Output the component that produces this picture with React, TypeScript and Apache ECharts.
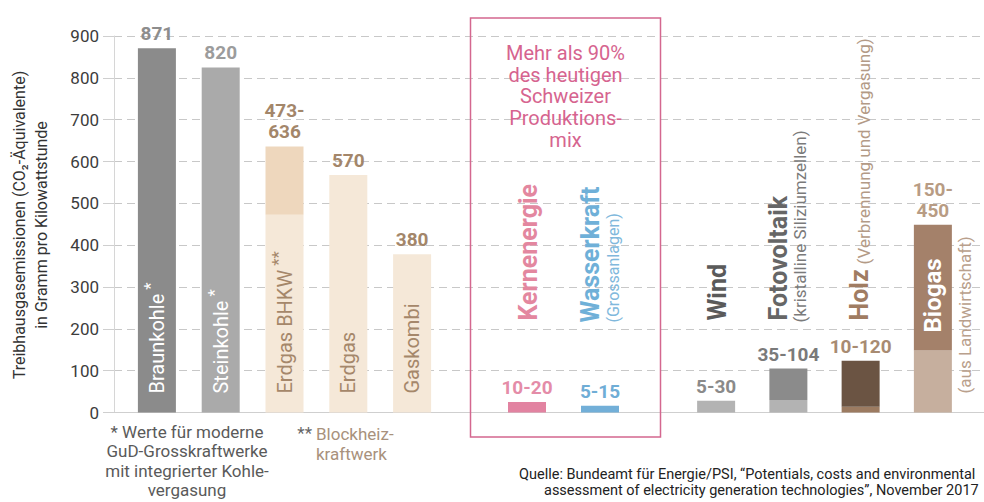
import React, { useEffect, useRef } from "react";
import * as echarts from "echarts";

const FONT = "Roboto, 'Noto Sans', sans-serif";

// Y axis scale
const yMin = 0;
const yMax = 900;
const yStep = 100;

// Fossil group
const fossilCategories = ["Braunkohle", "Steinkohle", "Erdgas BHKW", "Erdgas", "Gaskombi"];
const fossilLow = [871, 825, 473, 568, 378];
const fossilHigh = [871, 825, 636, 568, 378];
const fossilLabels = ["871", "820", "473-\n636", "570", "380"];
const fossilMarks = ["*", "*", "**", "", ""];

// Swiss production mix group
const swissCategories = ["Kernenergie", "Wasserkraft"];
const swissLow = [25, 16];
const swissHigh = [25, 16];
const swissLabels = ["10-20", "5-15"];
const swissNotes = ["", "(Grossanlagen)"];

// Renewables group
const renewCategories = ["Wind", "Fotovoltaik", "Holz", "Biogas"];
const renewLow = [28, 30, 14, 148];
const renewHigh = [28, 105, 124, 449];
const renewLabels = ["5-30", "35-104", "10-120", "150-\n450"];
const renewNotes = ["", "(kristalline Siliziumzellen)", "(Verbrennung und Vergasung)", "(aus Landwirtschaft)"];

// Styles (kept apart from the data)
const fossilLowColors = ["#8b8b8b", "#aaaaaa", "#f5e8d8", "#f5e8d8", "#f5e8d8"];
const fossilHighColors = ["#8b8b8b", "#aaaaaa", "#eed7bd", "#f5e8d8", "#f5e8d8"];
const fossilLabelColors = ["#8d8d8d", "#9c9c9c", "#a3866a", "#a3866a", "#a3866a"];
const fossilNameColors = ["#ffffff", "#ffffff", "#a5876a", "#a5876a", "#a5876a"];

const swissLowColors = ["#e283a1", "#72afd8"];
const swissHighColors = ["#e283a1", "#72afd8"];
const swissLabelColors = ["#e48ca8", "#6fadd6"];
const swissNameColors = ["#e3879f", "#6fb0d8"];
const swissNoteColors = ["#e3879f", "#80b8dc"];

const renewLowColors = ["#b3b3b3", "#b3b3b3", "#9c7b61", "#c6af9e"];
const renewHighColors = ["#b3b3b3", "#8b8b8b", "#6b5443", "#a4816a"];
const renewLabelColors = ["#8a8a8a", "#7a7a7a", "#a88b72", "#b89c84"];
const renewNameColors = ["#5a5a5a", "#666666", "#a07c62", "#ffffff"];
const renewNoteColors = ["", "#7a7a7a", "#b39a86", "#b9a08c"];

const GRID_TOP = 36;
const GRID_BOTTOM = 89.5;

function stackSeries(
  g: number,
  low: number[],
  high: number[],
  lowColors: string[],
  highColors: string[],
  labels: string[],
  labelColors: string[]
) {
  return [
    {
      type: "bar",
      xAxisIndex: g,
      yAxisIndex: g,
      stack: "s" + g,
      barWidth: 38,
      silent: true,
      data: low.map((v, i) => ({ value: v, itemStyle: { color: lowColors[i] } })),
    },
    {
      type: "bar",
      xAxisIndex: g,
      yAxisIndex: g,
      stack: "s" + g,
      barWidth: 38,
      silent: true,
      data: high.map((v, i) => ({
        value: v - low[i],
        itemStyle: { color: highColors[i] },
        label: { color: labelColors[i] },
      })),
      label: {
        show: true,
        position: "top",
        distance: 4,
        formatter: (p: any) => labels[p.dataIndex],
        fontFamily: FONT,
        fontSize: 19,
        fontWeight: "bold",
        lineHeight: 21,
      },
    },
  ];
}

export default function App() {
  const ref = useRef<HTMLDivElement>(null);

  useEffect(() => {
    const el = ref.current!;
    const chart = echarts.init(el, null, { renderer: "svg" });

    const hiddenY = (g: number) => ({
      gridIndex: g,
      type: "value",
      min: yMin,
      max: yMax,
      interval: yStep,
      show: false,
      splitLine: { show: false },
    });

    chart.setOption({
      animation: false,
      backgroundColor: "#ffffff",
      grid: [
        { left: 114, right: 0, top: GRID_TOP, bottom: GRID_BOTTOM },
        { left: 125, width: 319, top: GRID_TOP, bottom: GRID_BOTTOM },
        { left: 490.5, width: 146, top: GRID_TOP, bottom: GRID_BOTTOM },
        { left: 680, width: 289, top: GRID_TOP, bottom: GRID_BOTTOM },
      ],
      xAxis: [
        {
          gridIndex: 0,
          type: "value",
          min: 0,
          max: 1,
          axisLine: { show: true, lineStyle: { color: "#cfcfcf", width: 1 } },
          axisTick: { show: false },
          axisLabel: { show: false },
          splitLine: { show: false },
        },
        { gridIndex: 1, type: "category", data: fossilCategories, show: false },
        { gridIndex: 2, type: "category", data: swissCategories, show: false },
        { gridIndex: 3, type: "category", data: renewCategories, show: false },
      ],
      yAxis: [
        {
          gridIndex: 0,
          type: "value",
          min: yMin,
          max: yMax,
          interval: yStep,
          axisLine: { show: true, lineStyle: { color: "#d6d6d6", width: 1 } },
          axisTick: { show: true, length: 11, lineStyle: { color: "#cfcfcf" } },
          axisLabel: { fontSize: 17, color: "#3c3c3c", margin: 15, fontFamily: FONT },
          splitLine: {
            show: true,
            showMinLine: false,
            lineStyle: { type: [8, 5], color: "#c8c8c8", width: 1 },
          },
        },
        hiddenY(1),
        hiddenY(2),
        hiddenY(3),
      ],
      series: [
        ...stackSeries(1, fossilLow, fossilHigh, fossilLowColors, fossilHighColors, fossilLabels, fossilLabelColors),
        ...stackSeries(2, swissLow, swissHigh, swissLowColors, swissHighColors, swissLabels, swissLabelColors),
        ...stackSeries(3, renewLow, renewHigh, renewLowColors, renewHighColors, renewLabels, renewLabelColors),
      ],
    });

    const ctx = document.createElement("canvas").getContext("2d")!;
    const measure = (text: string, size: number, weight = "normal") => {
      ctx.font = `${weight} ${size}px ${FONT}`;
      return ctx.measureText(text).width;
    };
    const px = (g: number, i: number, v: number) =>
      chart.convertToPixel({ gridIndex: g } as any, [i, v]) as number[];

    const txt = (
      x: number,
      y: number,
      text: string,
      size: number,
      color: string,
      opts: any = {}
    ) => ({
      type: "text",
      x,
      y,
      z: 100,
      silent: true,
      rotation: opts.rotate ? Math.PI / 2 : 0,
      style: {
        text,
        fontSize: size,
        fontWeight: opts.weight || "normal",
        fontFamily: FONT,
        fill: color,
        align: opts.align || "left",
        textAlign: opts.align || "left",
        verticalAlign: opts.valign || "middle",
        textVerticalAlign: opts.valign || "middle",
        lineHeight: opts.lineHeight,
      },
    });

    const graphics: any[] = [];

    // Fossil names (inside bars)
    fossilCategories.forEach((name, i) => {
      const [x, y0] = px(1, i, 0);
      const start = y0 - 19;
      graphics.push(txt(x, start, name, 20, fossilNameColors[i], { rotate: true }));
      if (fossilMarks[i]) {
        const w = measure(name, 20);
        graphics.push(txt(x - 7, start - w - 4, fossilMarks[i], 17, fossilNameColors[i], { rotate: true }));
      }
    });

    // Swiss names (above bars)
    swissCategories.forEach((name, i) => {
      const [x, y0] = px(2, i, 0);
      if (swissNotes[i]) {
        graphics.push(txt(x - 10, y0 - 90, name, 25, swissNameColors[i], { rotate: true, weight: "bold" }));
        graphics.push(txt(x + 13, y0 - 90, swissNotes[i], 16, swissNoteColors[i], { rotate: true }));
      } else {
        graphics.push(txt(x + 1, y0 - 92, name, 25, swissNameColors[i], { rotate: true, weight: "bold" }));
      }
    });

    // Renewable names
    renewCategories.forEach((name, i) => {
      const [x, y0] = px(3, i, 0);
      if (name === "Biogas") {
        graphics.push(txt(x, y0 - 80, name, 24, renewNameColors[i], { rotate: true, weight: "bold" }));
        graphics.push(txt(x + 32, y0 - 19, renewNotes[i], 17, renewNoteColors[i], { rotate: true }));
      } else if (name === "Holz") {
        graphics.push(txt(x - 1, y0 - 92, name, 25, renewNameColors[i], { rotate: true, weight: "bold" }));
        const w = measure(name, 25, "bold");
        graphics.push(txt(x + 3, y0 - 92 - w - 5, renewNotes[i], 17, renewNoteColors[i], { rotate: true }));
      } else if (renewNotes[i]) {
        graphics.push(txt(x - 10, y0 - 92, name, 25, renewNameColors[i], { rotate: true, weight: "bold" }));
        graphics.push(txt(x + 12, y0 - 90, renewNotes[i], 17, renewNoteColors[i], { rotate: true }));
      } else {
        graphics.push(txt(x + 1, y0 - 92, name, 25, renewNameColors[i], { rotate: true, weight: "bold" }));
      }
    });

    // Box around Swiss production mix
    graphics.push({
      type: "rect",
      z: 100,
      silent: true,
      shape: { x: 470.5, y: 18, width: 190, height: 419 },
      style: { fill: "none", stroke: "#d4678f", lineWidth: 1.5 },
    });
    graphics.push(
      txt(565.5, 42, "Mehr als 90%\ndes heutigen\nSchweizer\nProduktions-\nmix", 20, "#d6648f", {
        align: "center",
        valign: "top",
        lineHeight: 21.75,
      })
    );

    // Y axis title
    graphics.push(
      txt(30, 225, "Treibhausgasemissionen (CO₂-Äquivalente)\nin Gramm pro Kilowattstunde", 16, "#333333", {
        rotate: true,
        align: "center",
        valign: "middle",
        lineHeight: 22,
      })
    );

    // Footnotes
    graphics.push(
      txt(187, 422, "* Werte für moderne\nGuD-Grosskraftwerke\nmit integrierter Kohle-\nvergasung", 17, "#5a5a5a", {
        align: "center",
        valign: "top",
        lineHeight: 19.5,
      })
    );
    graphics.push(txt(312, 433, "**", 17, "#666666", { align: "right" }));
    graphics.push(
      txt(316, 424, "Blockheiz-\nkraftwerk", 17, "#a8917c", { valign: "top", lineHeight: 20 })
    );
    graphics.push(
      txt(519, 474, "Quelle: Bundeamt für Energie/PSI, “Potentials, costs and environmental", 14.5, "#222222")
    );
    graphics.push(
      txt(544, 490, "assessment of electricity generation technologies”, November 2017", 14.5, "#222222")
    );

    chart.setOption({ graphic: graphics });

    return () => chart.dispose();
  }, []);

  return (
    <div
      ref={ref}
      style={{ position: "absolute", left: 0, top: 0, width: 984, height: 502, background: "#ffffff" }}
    />
  );
}
